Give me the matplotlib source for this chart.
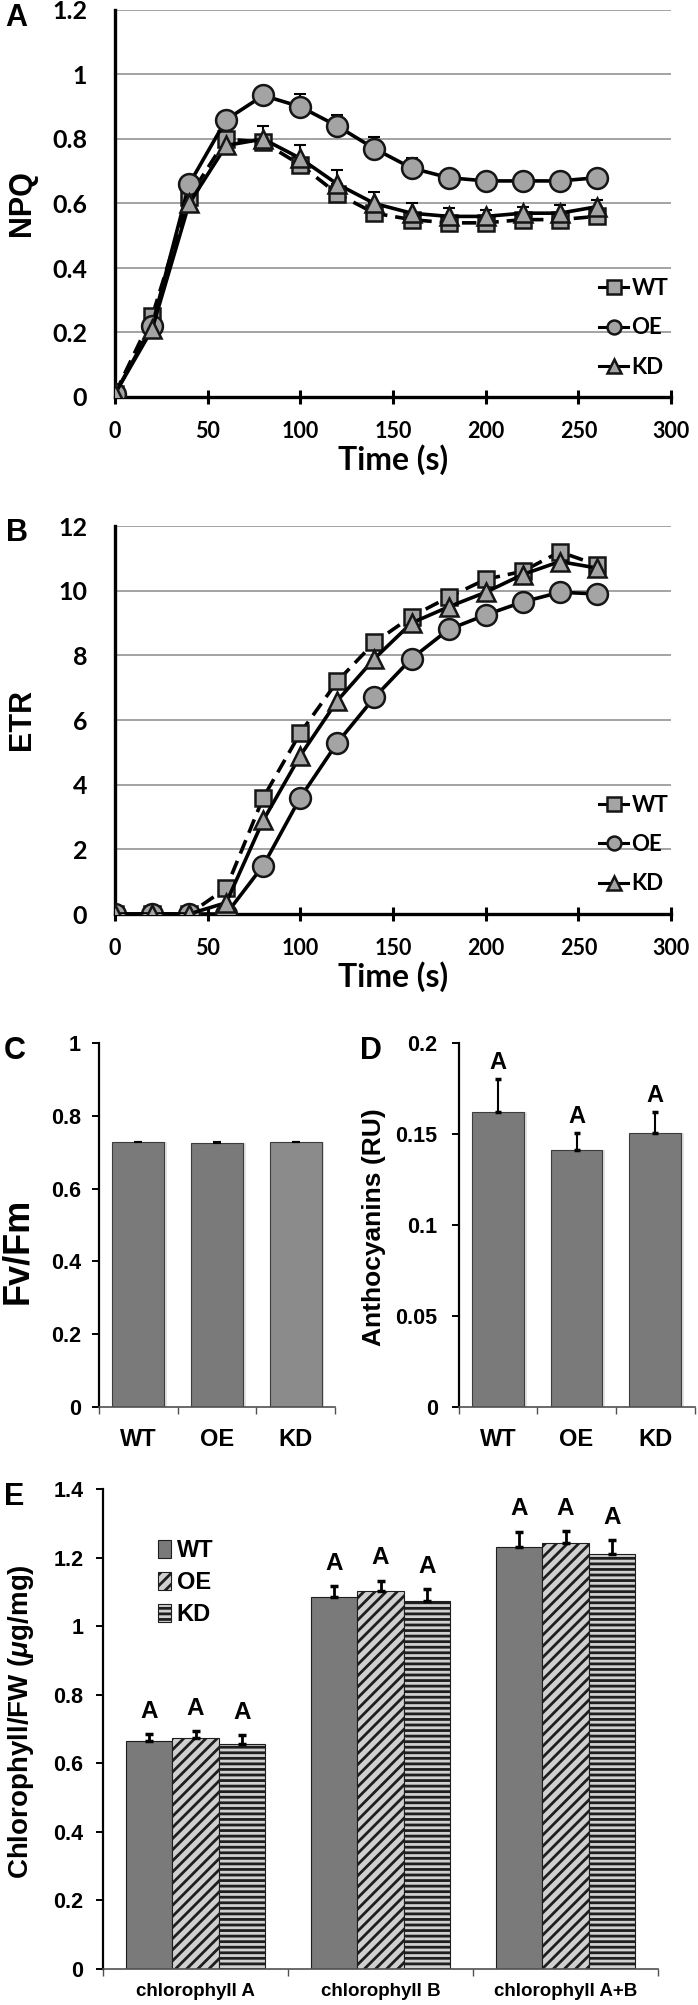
import matplotlib
matplotlib.use('Agg')
import matplotlib.pyplot as plt
from matplotlib.patches import Patch
import numpy as np

plt.rcParams['font.family'] = ['Liberation Sans', 'DejaVu Sans']
plt.rcParams['font.weight'] = 'bold'
plt.rcParams['mathtext.fontset'] = 'custom'
plt.rcParams['mathtext.rm'] = 'Liberation Sans:bold'
plt.rcParams['mathtext.it'] = 'Liberation Sans:italic:bold'
plt.rcParams['hatch.linewidth'] = 2.0

# ---- data ----
time_s = [0, 20, 40, 60, 80, 100, 120, 140, 160, 180, 200, 220, 240, 260]

npq_wt = [0.01, 0.25, 0.62, 0.80, 0.79, 0.72, 0.63, 0.57, 0.55, 0.54, 0.54, 0.55, 0.55, 0.56]
npq_oe = [0.01, 0.22, 0.66, 0.86, 0.935, 0.90, 0.84, 0.77, 0.71, 0.68, 0.67, 0.67, 0.67, 0.68]
npq_kd = [0.01, 0.21, 0.60, 0.78, 0.80, 0.74, 0.66, 0.60, 0.57, 0.56, 0.56, 0.57, 0.57, 0.59]
npq_wt_err = [0.0, 0.01, 0.01, 0.01, 0.01, 0.01, 0.01, 0.01, 0.01, 0.01, 0.01, 0.01, 0.01, 0.01]
npq_oe_err = [0.0, 0.01, 0.01, 0.015, 0.02, 0.04, 0.035, 0.035, 0.03, 0.025, 0.02, 0.025, 0.025, 0.025]
npq_kd_err = [0.0, 0.01, 0.01, 0.02, 0.04, 0.04, 0.045, 0.035, 0.03, 0.025, 0.02, 0.02, 0.025, 0.02]

etr_wt = [0.0, 0.0, 0.0, 0.8, 3.6, 5.6, 7.2, 8.4, 9.2, 9.8, 10.35, 10.6, 11.2, 10.8]
etr_oe = [0.0, 0.0, 0.0, 0.0, 1.5, 3.6, 5.3, 6.7, 7.9, 8.8, 9.25, 9.65, 9.95, 9.9]
etr_kd = [0.0, 0.0, 0.0, 0.35, 2.9, 4.9, 6.6, 7.9, 9.0, 9.5, 9.95, 10.5, 10.9, 10.7]

genotypes = ['WT', 'OE', 'KD']
fvfm = [0.727, 0.725, 0.727]
fvfm_err = [0.002, 0.002, 0.002]

antho = [0.162, 0.141, 0.1505]
antho_err = [0.018, 0.0095, 0.0115]

chl_groups = ['chlorophyll A', 'chlorophyll B', 'chlorophyll A+B']
chl_wt = [0.665, 1.086, 1.231]
chl_oe = [0.675, 1.103, 1.243]
chl_kd = [0.657, 1.074, 1.211]
chl_wt_err = [0.02, 0.03, 0.045]
chl_oe_err = [0.02, 0.03, 0.035]
chl_kd_err = [0.025, 0.035, 0.04]

W, H = 698, 2005
fig = plt.figure(figsize=(W / 100, H / 100), dpi=100)


def rect(left, right, top, bottom):
    return [left / W, (H - bottom) / H, (right - left) / W, (bottom - top) / H]


def letter(txt, x, y):
    # panel letter, placed in figure pixels (from top-left)
    fig.text(x / W, 1 - y / H, txt, fontsize=22, fontweight='bold', ha='left', va='center')


LINE_FONT = ['Lato', 'DejaVu Sans']
MARK_FC = '#a4a4a4'
MARK_EC = '#151515'


def line_panel(ax, series, errs, ylim, yticks, ylabels, ylabel, leg_top):
    styles = [('s', 12, (0, (4.0, 2.2))), ('o', 15, '-'), ('^', 13, '-')]
    handles = []
    for (vals, err, lab, (mk, ms, ls)) in zip(series, errs, genotypes, styles):
        if err is not None:
            ax.errorbar(time_s, vals, yerr=[np.zeros(len(err)), err], fmt='none',
                        ecolor='black', elinewidth=1.5, capsize=4, capthick=1.5, zorder=2)
        h, = ax.plot(time_s, vals, marker=mk, markersize=ms, linestyle=ls, color='black',
                     linewidth=2.6, markerfacecolor=MARK_FC, markeredgecolor=MARK_EC,
                     markeredgewidth=1.8, label=lab, zorder=3)
        handles.append(h)
    ax.set_xlim(0, 300)
    ax.set_ylim(*ylim)
    ax.set_xticks(np.arange(0, 301, 50))
    ax.set_yticks(yticks)
    ax.set_yticklabels(ylabels)
    for s in ['top', 'right']:
        ax.spines[s].set_visible(False)
    for s in ['left', 'bottom']:
        ax.spines[s].set_linewidth(2.4)
        ax.spines[s].set_color('black')
    ax.grid(axis='y', color='#9c9c9c', linewidth=1.3, zorder=0)
    ax.set_axisbelow(True)
    ax.tick_params(axis='y', length=0, pad=20)
    ax.tick_params(axis='x', direction='inout', length=10, width=2.2, pad=12)
    for t in ax.get_yticklabels():
        t.set_family(LINE_FONT)
        t.set_fontsize(18)
        t.set_fontweight('bold')
    for t in ax.get_xticklabels():
        t.set_family(LINE_FONT)
        t.set_fontsize(15.5)
        t.set_fontweight('bold')
    ax.set_xlabel('Time (s)', family=LINE_FONT, fontsize=23, fontweight='bold', labelpad=2)
    ax.set_ylabel(ylabel, fontsize=22, fontweight='bold', va='center')
    ax.yaxis.set_label_coords(-0.168, 0.5)
    leg = ax.legend(handles=handles, loc='upper left', bbox_to_anchor=(0.855, leg_top),
                    frameon=False, handlelength=1.3, handletextpad=0.15, labelspacing=0.82,
                    borderaxespad=0, prop={'family': LINE_FONT, 'size': 16, 'weight': 'bold'})
    for lh in leg.get_lines():
        lh.set_markersize(10)
        lh.set_linewidth(2.2)
        lh.set_linestyle('-')


# ---- A: NPQ ----
axA = fig.add_axes(rect(115, 671, 10, 397))
line_panel(axA, [npq_wt, npq_oe, npq_kd], [npq_wt_err, npq_oe_err, npq_kd_err],
           (0, 1.2), np.arange(0, 1.21, 0.2), ['0', '0.2', '0.4', '0.6', '0.8', '1', '1.2'],
           'NPQ', 0.33)
letter('A', 5, 18)

# ---- B: ETR ----
axB = fig.add_axes(rect(115, 671, 526, 914))
line_panel(axB, [etr_wt, etr_oe, etr_kd], [None, None, None],
           (0, 12), np.arange(0, 12.1, 2), ['0', '2', '4', '6', '8', '10', '12'],
           'ETR', 0.33)
letter('B', 6, 533)


def bar_axes_style(ax, ylim, yticks, ylabels, ncat, ypad):
    ax.set_xlim(-0.5, ncat - 0.5)
    ax.set_ylim(*ylim)
    ax.set_yticks(yticks)
    ax.set_yticklabels(ylabels)
    for s in ['top', 'right']:
        ax.spines[s].set_visible(False)
    ax.spines['left'].set_linewidth(1.6)
    ax.spines['left'].set_color('black')
    ax.spines['bottom'].set_linewidth(1.2)
    ax.spines['bottom'].set_color('#505050')
    ax.set_xticks(np.arange(-0.5, ncat, 1.0))
    ax.set_xticklabels([])
    ax.tick_params(axis='x', which='major', direction='out', length=5, width=1.0, color='#505050')
    ax.tick_params(axis='y', direction='out', length=5, width=1.4, pad=ypad, labelsize=15.5)


# ---- C: Fv/Fm ----
axC = fig.add_axes(rect(99, 335, 1043, 1407))
xc = np.arange(3)
axC.bar(xc + 0.035, fvfm, width=0.66, color='#e2e2e2', linewidth=0, zorder=1)
axC.bar(xc, fvfm, width=0.66, color=['#7a7a7a', '#7a7a7a', '#8b8b8b'],
        edgecolor='#3c3c3c', linewidth=0.8, zorder=2)
axC.errorbar(xc, fvfm, yerr=[np.zeros(3), fvfm_err], fmt='none', ecolor='black',
             elinewidth=1.2, capsize=3, capthick=1.5, zorder=3)
bar_axes_style(axC, (0, 1.0), np.arange(0, 1.01, 0.2), ['0', '0.2', '0.4', '0.6', '0.8', '1'], 3, 8)
axC.set_xticks(xc, minor=True)
axC.set_xticklabels(genotypes, minor=True)
axC.tick_params(axis='x', which='minor', length=0, pad=15, labelsize=17)
axC.set_ylabel('Fv/Fm', fontsize=26, fontweight='bold', va='center')
axC.yaxis.set_label_coords(-0.345, 0.43)
letter('C', 4, 1051)

# ---- D: Anthocyanins ----
axD = fig.add_axes(rect(458.5, 694.5, 1043, 1407))
axD.bar(xc + 0.035, antho, width=0.66, color='#e2e2e2', linewidth=0, zorder=1)
axD.bar(xc, antho, width=0.66, color='#7a7a7a', edgecolor='#3c3c3c', linewidth=0.8, zorder=2)
axD.errorbar(xc, antho, yerr=[np.zeros(3), antho_err], fmt='none', ecolor='black',
             elinewidth=1.5, capsize=2, capthick=2.5, zorder=3)
for xi, v, e in zip(xc, antho, antho_err):
    axD.annotate('A', (xi, v + e), xytext=(0, 4), textcoords='offset points',
                 ha='center', va='bottom', fontsize=17, fontweight='bold')
bar_axes_style(axD, (0, 0.2), np.arange(0, 0.201, 0.05), ['0', '0.05', '0.1', '0.15', '0.2'], 3, 10)
axD.set_xticks(xc, minor=True)
axD.set_xticklabels(genotypes, minor=True)
axD.tick_params(axis='x', which='minor', length=0, pad=15, labelsize=17)
axD.set_ylabel('Anthocyanins (RU)', fontsize=19, fontweight='bold', va='center')
axD.yaxis.set_label_coords(-0.358, 0.495)
letter('D', 360, 1051)

# ---- E: Chlorophyll ----
axE = fig.add_axes(rect(103, 658, 1489, 1969))
xg = np.arange(3)
bw = 0.25
e_series = [(chl_wt, chl_wt_err, '#7a7a7a', ''), (chl_oe, chl_oe_err, '#d0d0d0', '///'),
            (chl_kd, chl_kd_err, '#d0d0d0', '---')]
patches = []
for k, (vals, err, fc, hatch) in enumerate(e_series):
    xs = xg + (k - 1) * bw
    axE.bar(xs, vals, width=bw, color=fc, edgecolor='#1e1e1e', hatch=hatch,
            linewidth=0.8, zorder=2)
    axE.errorbar(xs, vals, yerr=[np.zeros(3), err], fmt='none', ecolor='black',
                 elinewidth=2.0, capsize=3, capthick=2.5, zorder=3)
    for xi, v, e in zip(xs, vals, err):
        axE.annotate('A', (xi, v + e), xytext=(0, 8), textcoords='offset points',
                     ha='center', va='bottom', fontsize=17.5, fontweight='bold')
    patches.append(Patch(facecolor=fc, edgecolor='#1e1e1e', hatch=hatch, linewidth=0.8,
                         label=genotypes[k]))
bar_axes_style(axE, (0, 1.4), np.arange(0, 1.41, 0.2),
               ['0', '0.2', '0.4', '0.6', '0.8', '1', '1.2', '1.4'], 3, 9)
axE.set_xticks(xg, minor=True)
axE.set_xticklabels(chl_groups, minor=True)
axE.tick_params(axis='x', which='minor', length=0, pad=10, labelsize=13.5)
axE.set_ylabel(r'Chlorophyll/FW ($\mu$g/mg)', fontsize=20, fontweight='bold', va='center')
axE.yaxis.set_label_coords(-0.148, 0.515)
letter('E', 4, 1497)
axE.legend(handles=patches, loc='upper left', bbox_to_anchor=(0.082, 0.915), frameon=False,
           handlelength=0.55, handleheight=0.75, handletextpad=0.25, labelspacing=0.38,
           borderaxespad=0, prop={'size': 17, 'weight': 'bold'})

fig.savefig('out.png', dpi=100)
